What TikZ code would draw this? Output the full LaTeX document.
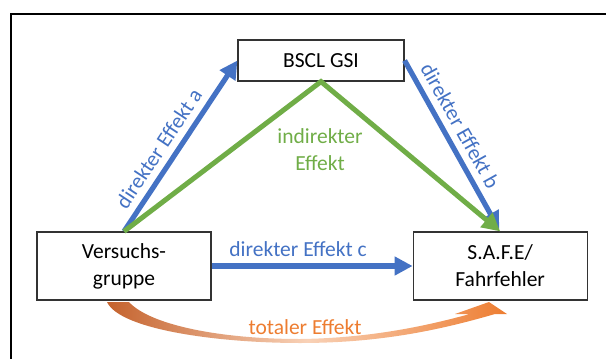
\documentclass[tikz,border=0pt]{standalone}
\usepackage{fontspec}
\setmainfont{Carlito}
\usetikzlibrary{arrows.meta, positioning}

\definecolor{effblue}{HTML}{4472C4}
\definecolor{effgreen}{HTML}{70AD47}
\definecolor{efforange}{HTML}{ED7D31}
\definecolor{effbrown}{HTML}{C4622D}

\begin{document}
\begin{tikzpicture}[
    x=0.5pt, y=-0.5pt,
    font=\fontsize{10.75}{13.5}\selectfont,
    box/.style={draw=black!80, line width=0.6pt, fill=white, align=center, minimum width=87pt, minimum height=34pt, inner sep=2pt},
    effect/.style={line width=2.6pt, -{Triangle[length=9pt, width=9pt]}}
]
  \useasboundingbox (0,0) rectangle (606,359);

  % Frame (only top and left edge in view)
  \draw[line width=1pt] (11,359) -- (11,13.5) -- (606,13.5);

  % Boxes
  \node[box, minimum width=83pt, minimum height=20.5pt] (bscl) at (321,60.5) {BSCL GSI};
  \node[box] (grp) at (124,266) {Versuchs-\\gruppe};
  \node[box, right=100.5pt of grp] (safe) {S.A.F.E/\\Fahrfehler};

  % Direct effects a, b, c
  \draw[effect, effblue] (grp.north) -- node[sloped, above, pos=0.43] (lbla) {direkter Effekt a} (bscl.west);
  \draw[effect, effblue, shorten >=1pt] (bscl.east) -- node[sloped, above, pos=0.43] (lblb) {direkter Effekt b} (safe.north);
  \draw[effect, effblue] (grp.east) -- node[above, pos=0.43] (lblc) {direkter Effekt c} (safe.west);

  % Indirect effect over the mediator
  \draw[effect, effgreen, line width=2.5pt] (grp.north) -- (bscl.south) -- (safe.north);
  \node[text=effgreen, align=center] (ind) at (320,150) {indirekter\\Effekt};

  % Total effect, curved band arrow
  \shade[left color=effbrown, right color=efforange, middle color=efforange!35]
    (107,302) .. controls (120,330) and (220,343) .. (300,343)
    .. controls (380,343) and (440,330) .. (495,314)
    -- (507,314) -- (489,302) -- (455,314) -- (470,314)
    .. controls (440,322) and (380,338) .. (300,339)
    .. controls (220,339) and (150,325) .. (129,302) -- cycle;
  \node[text=efforange] (tot) at (305,327) {totaler Effekt};

\end{tikzpicture}
\end{document}
